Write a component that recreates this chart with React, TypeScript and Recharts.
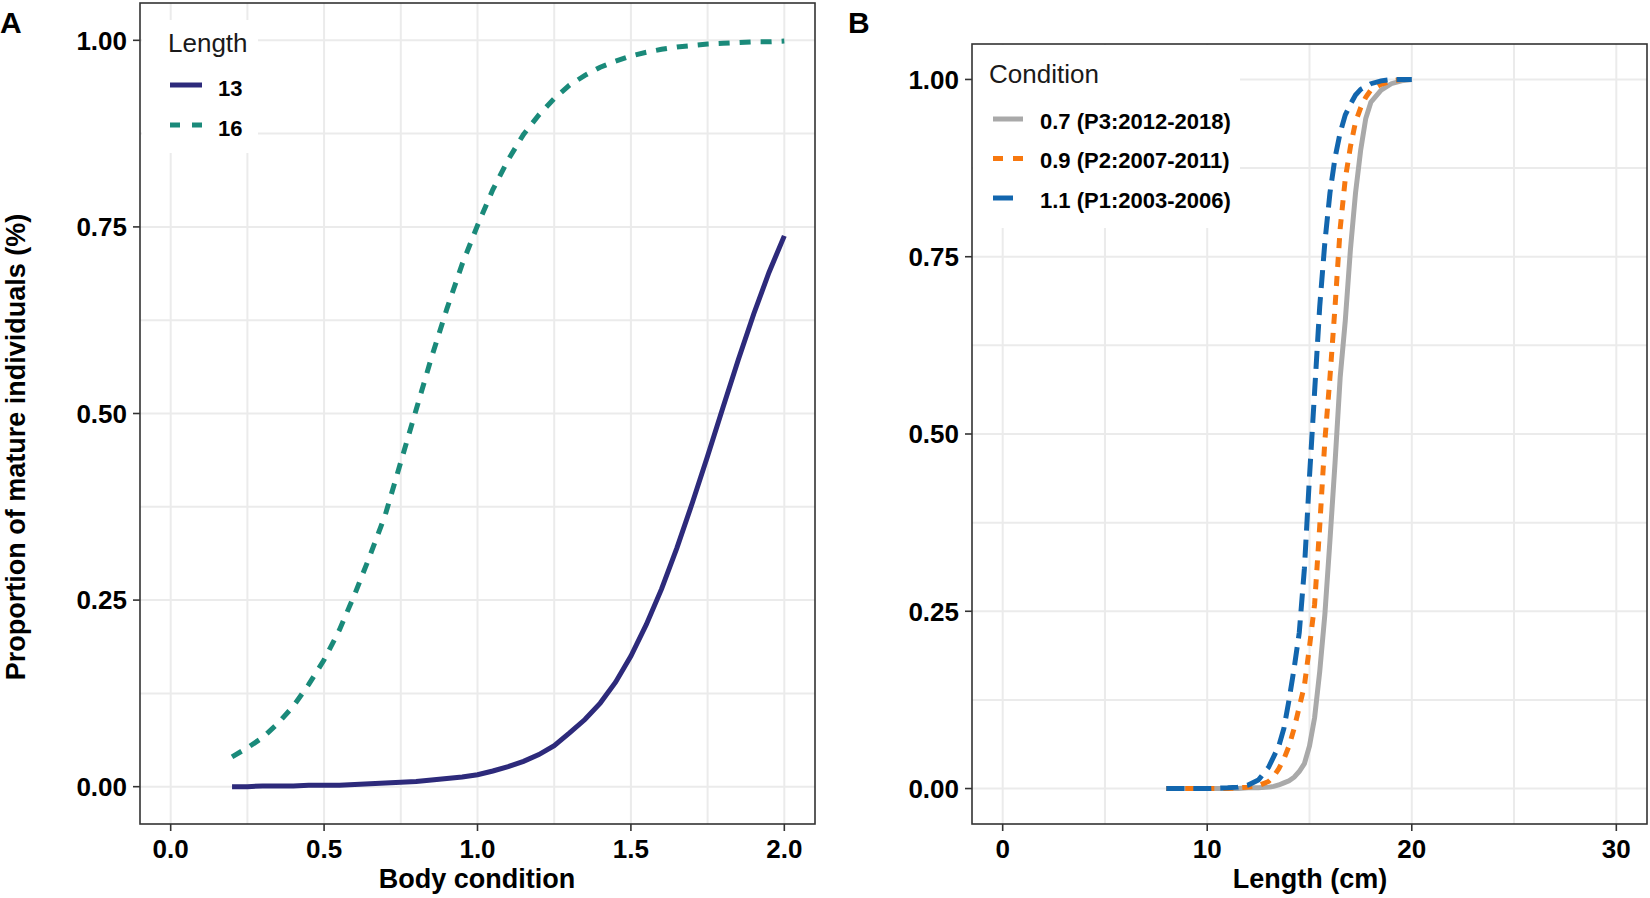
import React from 'react';
import { LineChart, Line, XAxis, YAxis, CartesianGrid } from 'recharts';

// ---------- Panel A data ----------
const bodyCondition = [
  0.2, 0.25, 0.3, 0.35, 0.4, 0.45, 0.5, 0.55, 0.6, 0.65, 0.7, 0.75, 0.8, 0.85, 0.9, 0.95,
  1.0, 1.05, 1.1, 1.15, 1.2, 1.25, 1.3, 1.35, 1.4, 1.45, 1.5, 1.55, 1.6, 1.65, 1.7, 1.75,
  1.8, 1.85, 1.9, 1.95, 2.0,
];
const length13 = [
  0.0, 0.0, 0.001, 0.001, 0.001, 0.002, 0.002, 0.002, 0.003, 0.004, 0.005, 0.006, 0.007, 0.009, 0.011, 0.013,
  0.016, 0.021, 0.027, 0.034, 0.043, 0.055, 0.072, 0.09, 0.112, 0.14, 0.175, 0.217, 0.265, 0.32, 0.38, 0.443,
  0.508, 0.572, 0.633, 0.689, 0.738,
];
const length16 = [
  0.04, 0.052, 0.066, 0.085, 0.108, 0.137, 0.17, 0.21, 0.258, 0.31, 0.365, 0.435, 0.505, 0.575, 0.64, 0.7,
  0.752, 0.8, 0.84, 0.874, 0.9, 0.922, 0.94, 0.953, 0.964, 0.972, 0.979, 0.984, 0.988, 0.991, 0.993, 0.995,
  0.996, 0.997, 0.998, 0.998, 0.999,
];

// ---------- Panel B data ----------
const lengthCm = [
  8, 9, 10, 11, 11.5, 12, 12.5, 13, 13.25, 13.5, 13.75, 14, 14.25, 14.5, 14.75, 15,
  15.25, 15.5, 15.75, 16, 16.25, 16.5, 16.75, 17, 17.25, 17.5, 17.75, 18, 18.5, 19, 19.5, 20,
];
const cond07 = [
  0, 0, 0, 0, 0, 0.001, 0.001, 0.002, 0.003, 0.005, 0.008, 0.011, 0.016, 0.024, 0.035, 0.06,
  0.1, 0.165, 0.245, 0.35, 0.46, 0.58, 0.66, 0.76, 0.84, 0.9, 0.945, 0.968, 0.985, 0.994, 0.998, 1.0,
];
const cond09 = [
  0, 0, 0, 0, 0.001, 0.002, 0.004, 0.01, 0.017, 0.028, 0.042, 0.06, 0.085, 0.115, 0.145, 0.2,
  0.26, 0.37, 0.49, 0.58, 0.68, 0.79, 0.86, 0.905, 0.94, 0.96, 0.975, 0.985, 0.993, 0.998, 1.0, 1.0,
];
const cond11 = [
  0, 0, 0, 0.001, 0.002, 0.005, 0.012, 0.03, 0.045, 0.06, 0.085, 0.125, 0.17, 0.22, 0.31, 0.44,
  0.56, 0.68, 0.77, 0.84, 0.89, 0.925, 0.95, 0.965, 0.978, 0.986, 0.99, 0.994, 0.998, 1.0, 1.0, 1.0,
];

// ---------- ticks ----------
const aXTicks = [0, 0.5, 1, 1.5, 2];
const aXMinor = [0.25, 0.75, 1.25, 1.75];
const yTicks = [0, 0.25, 0.5, 0.75, 1];
const yMinor = [0.125, 0.375, 0.625, 0.875];
const bXTicks = [0, 10, 20, 30];
const bXMinor = [5, 15, 25];

const legendA = [
  { label: '13', color: '#2D2A7B', dash: undefined as string | undefined },
  { label: '16', color: '#1A8A7A', dash: '10 12' },
];
const legendB = [
  { label: '0.7 (P3:2012-2018)', color: '#A9A9A9', dash: undefined as string | undefined },
  { label: '0.9 (P2:2007-2011)', color: '#F7780F', dash: '10 10' },
  { label: '1.1 (P1:2003-2006)', color: '#1266AE', dash: '20 10' },
];

const dataA = bodyCondition.map((x, i) => ({ x, l13: length13[i], l16: length16[i] }));
const dataB = lengthCm.map((x, i) => ({ x, c07: cond07[i], c09: cond09[i], c11: cond11[i] }));

const FONT = '"Liberation Sans", Arial, Helvetica, sans-serif';
const tickStyle = { fill: '#000', fontSize: 26, fontWeight: 'bold', fontFamily: FONT };
const tickLineStyle = { stroke: '#333', strokeWidth: 1.6 };
const GRID = '#EBEBEB';

export default function App() {
  return (
    <div
      style={{
        position: 'absolute',
        left: 0,
        top: 0,
        width: 1650,
        height: 898,
        background: '#fff',
        fontFamily: FONT,
        overflow: 'hidden',
      }}
    >
      {/* Panel A */}
      <div style={{ position: 'absolute', left: 0, top: 0 }}>
        <LineChart width={830} height={898} data={dataA} margin={{ top: 3, right: 15, bottom: 0, left: 0 }}>
          <CartesianGrid
            stroke={GRID}
            strokeWidth={2}
            horizontalValues={[...yTicks, ...yMinor]}
            verticalValues={[...aXTicks, ...aXMinor]}
          />
          <XAxis
            type="number"
            dataKey="x"
            domain={[-0.1, 2.1]}
            allowDataOverflow
            ticks={aXTicks}
            interval={0}
            tickFormatter={(v: number) => v.toFixed(1)}
            height={74}
            tickSize={7}
            tickMargin={9}
            axisLine={false}
            tickLine={tickLineStyle}
            tick={tickStyle}
          />
          <YAxis
            type="number"
            domain={[-0.05, 1.05]}
            allowDataOverflow
            ticks={yTicks}
            interval={0}
            tickFormatter={(v: number) => v.toFixed(2)}
            width={140}
            tickSize={7}
            tickMargin={6}
            axisLine={false}
            tickLine={tickLineStyle}
            tick={tickStyle}
          />
          <Line
            type="linear"
            dataKey="l13"
            stroke={legendA[0].color}
            strokeWidth={5}
            dot={false}
            isAnimationActive={false}
          />
          <Line
            type="linear"
            dataKey="l16"
            stroke={legendA[1].color}
            strokeWidth={5}
            strokeDasharray="11 10"
            dot={false}
            isAnimationActive={false}
          />
        </LineChart>
      </div>

      {/* Panel B */}
      <div style={{ position: 'absolute', left: 830, top: 0 }}>
        <LineChart width={820} height={898} data={dataB} margin={{ top: 44, right: 3, bottom: 0, left: 0 }}>
          <CartesianGrid
            stroke={GRID}
            strokeWidth={2}
            horizontalValues={[...yTicks, ...yMinor]}
            verticalValues={[...bXTicks, ...bXMinor]}
          />
          <XAxis
            type="number"
            dataKey="x"
            domain={[-1.5, 31.5]}
            allowDataOverflow
            ticks={bXTicks}
            interval={0}
            height={74}
            tickSize={7}
            tickMargin={9}
            axisLine={false}
            tickLine={tickLineStyle}
            tick={tickStyle}
          />
          <YAxis
            type="number"
            domain={[-0.05, 1.05]}
            allowDataOverflow
            ticks={yTicks}
            interval={0}
            tickFormatter={(v: number) => v.toFixed(2)}
            width={142}
            tickSize={7}
            tickMargin={6}
            axisLine={false}
            tickLine={tickLineStyle}
            tick={tickStyle}
          />
          <Line type="linear" dataKey="c07" stroke={legendB[0].color} strokeWidth={5} dot={false} isAnimationActive={false} />
          <Line type="linear" dataKey="c09" stroke={legendB[1].color} strokeWidth={5} strokeDasharray="10 9" dot={false} isAnimationActive={false} />
          <Line type="linear" dataKey="c11" stroke={legendB[2].color} strokeWidth={5} strokeDasharray="18 9" dot={false} isAnimationActive={false} />
        </LineChart>
      </div>

      {/* Overlay: legends, borders, titles */}
      <svg
        width={1650}
        height={898}
        style={{ position: 'absolute', left: 0, top: 0, pointerEvents: 'none' }}
      >
        {/* Legend A */}
        <rect x={142} y={20} width={116} height={133} fill="#fff" />
        <text x={168} y={52} fontSize={26} fontFamily={FONT} fill="#1a1a1a">Length</text>
        {legendA.map((d, i) => (
          <g key={d.label}>
            <line x1={170} x2={202} y1={85 + i * 40} y2={85 + i * 40} stroke={d.color} strokeWidth={5} strokeDasharray={d.dash} />
            <text x={218} y={96 + i * 40} fontSize={22} fontWeight="bold" fontFamily={FONT} fill="#000">{d.label}</text>
          </g>
        ))}

        {/* Legend B */}
        <rect x={973} y={45} width={267} height={183} fill="#fff" />
        <text x={989} y={83} fontSize={26} fontFamily={FONT} fill="#1a1a1a">Condition</text>
        {legendB.map((d, i) => (
          <g key={d.label}>
            <line x1={993} x2={1023} y1={119 + i * 39.5} y2={119 + i * 39.5} stroke={d.color} strokeWidth={5} strokeDasharray={d.dash} />
            <text x={1040} y={128.5 + i * 39.5} fontSize={22} fontWeight="bold" fontFamily={FONT} fill="#000">{d.label}</text>
          </g>
        ))}

        {/* Panel borders */}
        <rect x={140} y={3} width={675} height={821} fill="none" stroke="#333" strokeWidth={1.6} />
        <rect x={972} y={44} width={675} height={780} fill="none" stroke="#333" strokeWidth={1.6} />

        {/* Panel labels */}
        <text x={0} y={33} fontSize={30} fontWeight="bold" fontFamily={FONT} fill="#000">A</text>
        <text x={848} y={33} fontSize={30} fontWeight="bold" fontFamily={FONT} fill="#000">B</text>

        {/* Axis titles */}
        <text x={477} y={888} textAnchor="middle" fontSize={27} fontWeight="bold" fontFamily={FONT} fill="#000">Body condition</text>
        <text x={1310} y={888} textAnchor="middle" fontSize={27} fontWeight="bold" fontFamily={FONT} fill="#000">Length (cm)</text>
        <text
          transform="translate(25,447) rotate(-90)"
          textAnchor="middle"
          fontSize={27}
          fontWeight="bold"
          fontFamily={FONT}
          fill="#000"
        >
          Proportion of mature individuals (%)
        </text>
      </svg>
    </div>
  );
}
